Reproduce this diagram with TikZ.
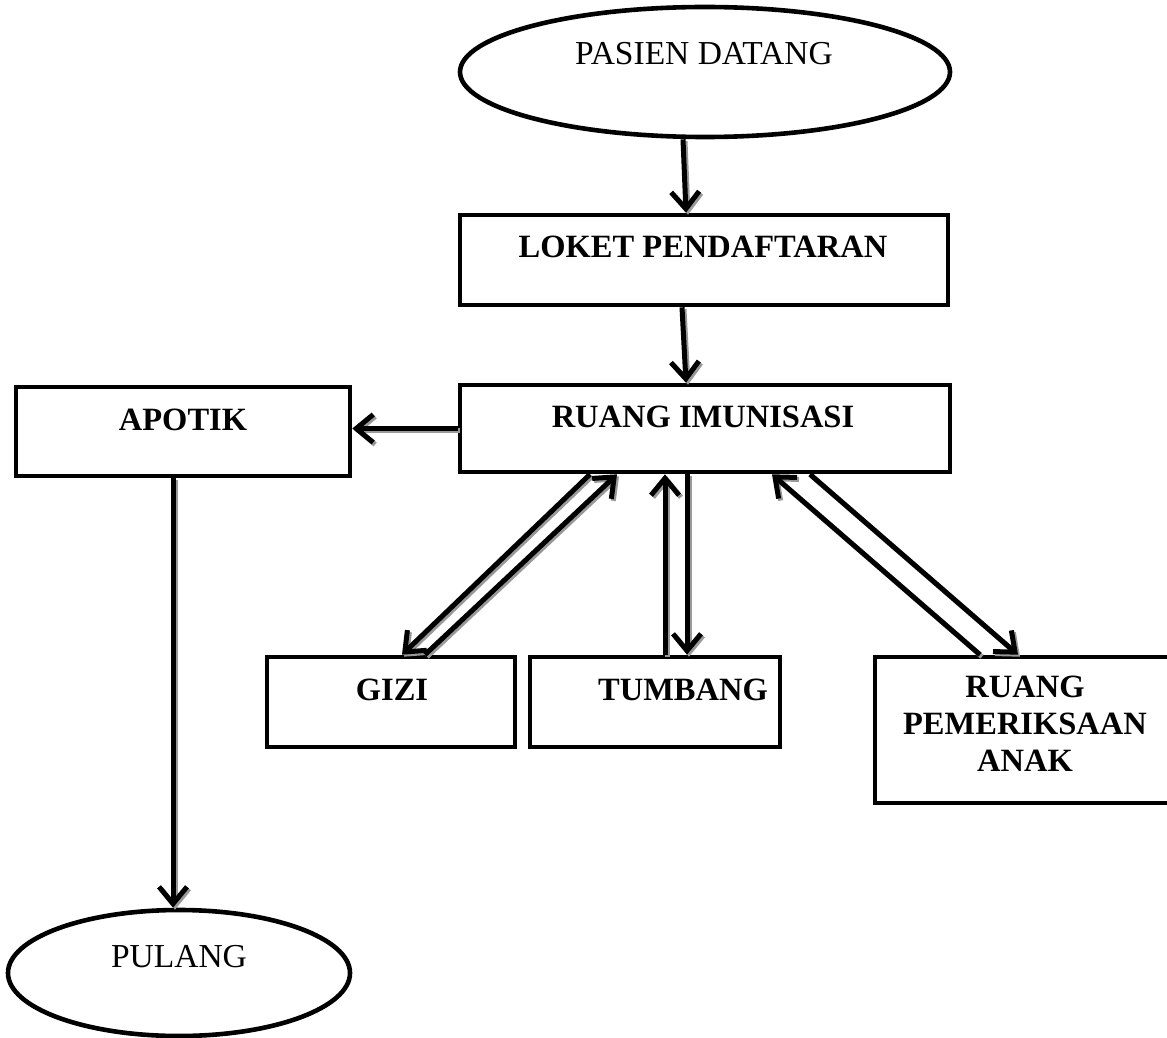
\documentclass[tikz,border=0pt]{standalone}
\usepackage{fontspec}
\setmainfont{Liberation Serif}
\usetikzlibrary{shapes.geometric,arrows.meta}
\begin{document}
\begin{tikzpicture}[x=1pt,y=-1pt,
  box/.style={draw,line width=4.6pt,rectangle,inner sep=0pt},
  oval/.style={draw,line width=4.6pt,ellipse,inner sep=0pt},
  lbl/.style={anchor=base,inner sep=0pt,font=\fontsize{33.5}{40}\selectfont},
  blbl/.style={lbl,font=\fontsize{32.5}{38}\selectfont\bfseries},
  arr/.style={line width=5pt,-{Straight Barb[length=17pt,width=28pt,line width=5pt]},
    preaction={draw=black!40,line width=5pt,transform canvas={shift={(2pt,-2pt)}}}}
]
\useasboundingbox (0,0) rectangle (1167,1038);
% shapes
\node[oval,minimum width=490pt,minimum height=130pt] (pasien) at (705,72) {};
\node[box,minimum width=488pt,minimum height=90pt] (loket) at (704,260) {};
\node[box,minimum width=490pt,minimum height=87pt] (ruang) at (705,428.5) {};
\node[box,minimum width=334pt,minimum height=89pt] (apotik) at (183,431.5) {};
\node[box,minimum width=248pt,minimum height=90pt] (gizi) at (391,702) {};
\node[box,minimum width=250pt,minimum height=90pt] (tumbang) at (655,702) {};
\node[box,minimum width=300pt,minimum height=146pt] (anak) at (1025,730) {};
\node[oval,minimum width=342pt,minimum height=126pt] (pulang) at (179,973) {};
% texts
\node[lbl] (tpasien) at (704,65) {PASIEN DATANG};
\node[blbl] (tloket) at (703,257) {LOKET PENDAFTARAN};
\node[blbl] (truang) at (703,427) {RUANG IMUNISASI};
\node[blbl] (tapotik) at (183,430) {APOTIK};
\node[blbl] (tgizi) at (392,700) {GIZI};
\node[blbl] (ttumbang) at (683,700) {TUMBANG};
\node[blbl,align=center,anchor=north,font=\fontsize{32.5}{37}\selectfont\bfseries] (tanak) at (1025,676) {RUANG\\PEMERIKSAAN\\ANAK};
\node[lbl] (tpulang) at (179,967) {PULANG};
% connectors
\draw[arr] ([xshift=-22pt]pasien.south) -- ([xshift=-18pt]loket.north);
\draw[arr] ([xshift=-22pt]loket.south) -- ([xshift=-19pt]ruang.north);
\draw[arr] (ruang.west) -- (ruang.west -| apotik.east);
\draw[arr] ([xshift=-10pt]apotik.south) -- ([xshift=-6pt]pulang.north);
\draw[arr] ([xshift=-115pt]ruang.south) -- ([xshift=11pt]gizi.north);
\draw[arr] ([xshift=34pt]gizi.north) -- ([xshift=-88pt]ruang.south);
\draw[arr] ([xshift=10pt]tumbang.north) -- ([xshift=-40pt]ruang.south);
\draw[arr] ([xshift=-18pt]ruang.south) -- ([xshift=32pt]tumbang.north);
\draw[arr] ([xshift=-45pt]anak.north) -- ([xshift=67pt]ruang.south);
\draw[arr] ([xshift=105pt]ruang.south) -- ([xshift=-7pt]anak.north);
\end{tikzpicture}
\end{document}
